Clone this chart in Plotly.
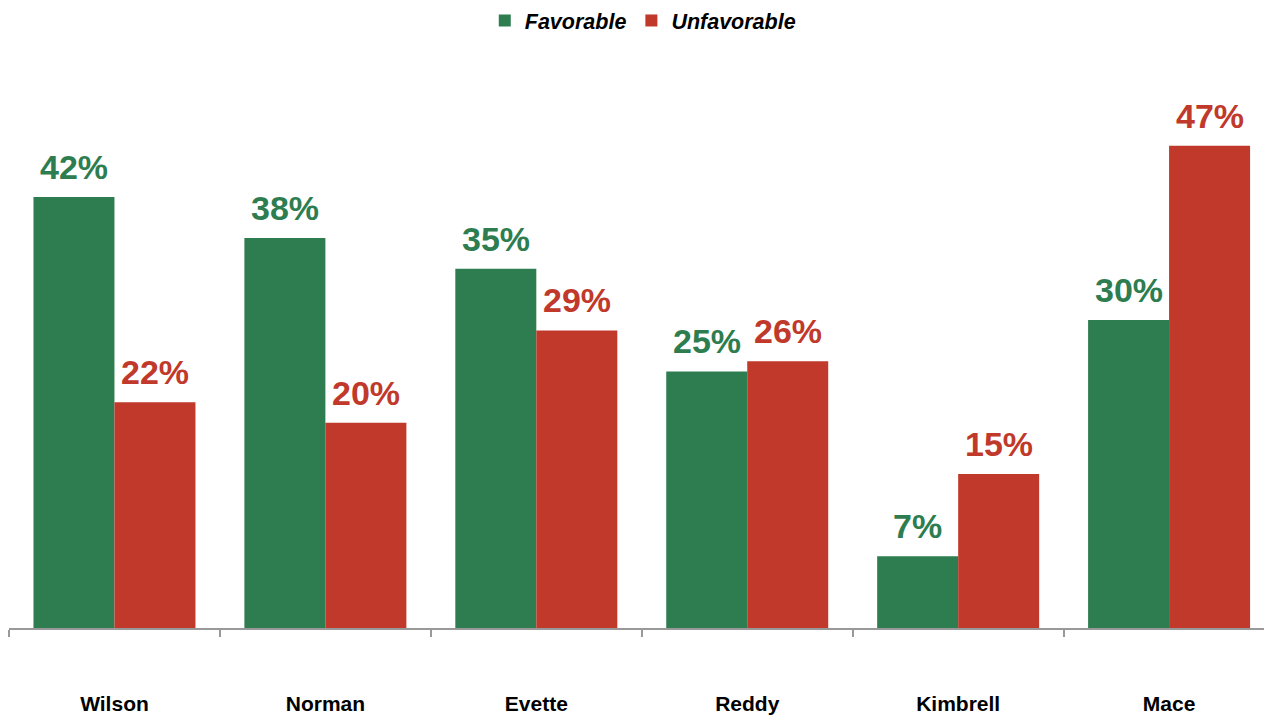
import plotly.graph_objects as go

categories = ["Wilson", "Norman", "Evette", "Reddy", "Kimbrell", "Mace"]
favorable = [42, 38, 35, 25, 7, 30]
unfavorable = [22, 20, 29, 26, 15, 47]

GREEN = "#2E7D50"
RED = "#C0392B"
FONT = "Liberation Sans, Arial, sans-serif"
BAR_PX = 40.5  # half of group width in pixels, used for label offsets

fig = go.Figure()
fig.add_trace(go.Bar(
    x=categories, y=favorable, name="Favorable",
    marker=dict(color=GREEN, line=dict(width=0)),
    hoverinfo="skip",
))
fig.add_trace(go.Bar(
    x=categories, y=unfavorable, name="Unfavorable",
    marker=dict(color=RED, line=dict(width=0)),
    hoverinfo="skip",
))

annotations = []
for cat, v in zip(categories, favorable):
    annotations.append(dict(
        x=cat, y=v, xref="x", yref="y", text=f"{v}%", showarrow=False,
        xanchor="center", yanchor="bottom", xshift=-BAR_PX, yshift=9,
        font=dict(family=FONT, size=34, color=GREEN, weight="bold"),
    ))
for cat, v in zip(categories, unfavorable):
    annotations.append(dict(
        x=cat, y=v, xref="x", yref="y", text=f"{v}%", showarrow=False,
        xanchor="center", yanchor="bottom", xshift=BAR_PX, yshift=9,
        font=dict(family=FONT, size=34, color=RED, weight="bold"),
    ))

fig.update_layout(
    width=1264, height=718,
    margin=dict(l=9, r=0, t=40, b=90),
    paper_bgcolor="white", plot_bgcolor="white",
    barmode="group", bargap=0.232, bargroupgap=0,
    font=dict(family=FONT, color="black"),
    showlegend=True,
    legend=dict(
        orientation="h", x=0.505, xanchor="center",
        yref="paper", y=1.072, yanchor="top",
        font=dict(family=FONT, size=21.5, color="black", style="italic", weight="bold"),
        traceorder="normal", itemclick=False, itemdoubleclick=False,
    ),
    annotations=annotations,
)
fig.update_xaxes(
    range=[-0.5, 5.45],
    showline=True, linecolor="#999999", linewidth=2,
    ticks="outside", tickson="boundaries", ticklen=7, tickwidth=2, tickcolor="#999999",
    tickfont=dict(family=FONT, size=21, color="black", weight="bold"),
    ticklabelstandoff=56,
    showgrid=False, zeroline=False, fixedrange=True,
)
fig.update_yaxes(
    range=[0, 57.1], visible=False, showgrid=False, zeroline=False, fixedrange=True,
)

fig.write_html(
    "out.html",
    config={"displayModeBar": False},
    post_script="document.body.style.margin='0';document.body.style.overflow='hidden';",
)
